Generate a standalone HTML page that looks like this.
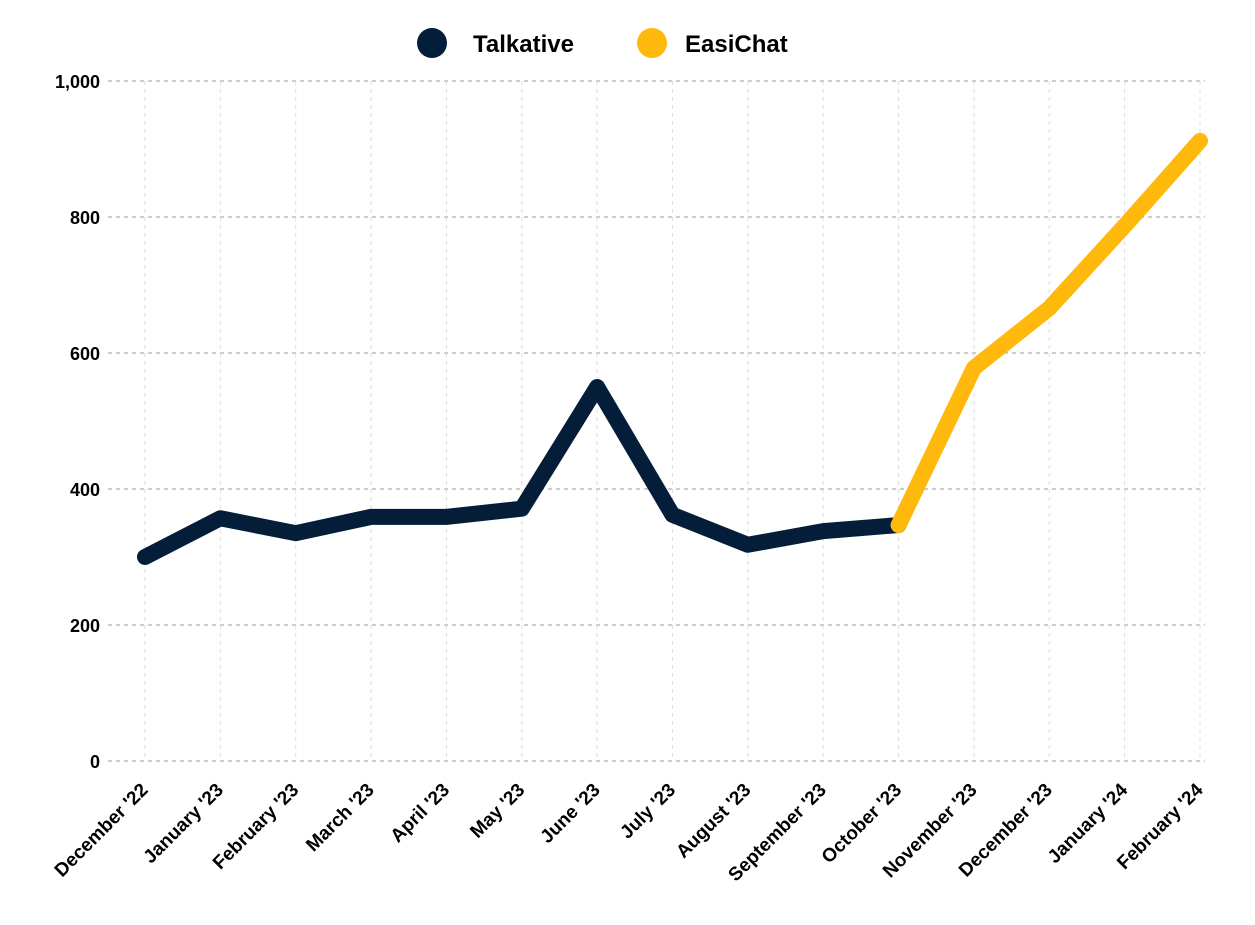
<!DOCTYPE html>
<html><head><meta charset="utf-8"><style>
html,body{margin:0;padding:0;background:#fff;}
svg{display:block;font-family:"Liberation Sans",sans-serif;font-weight:bold;}
</style></head><body>
<svg id="chart" width="1255" height="925" viewBox="0 0 1255 925">
<g id="legend">
<g><circle cx="432" cy="43" r="15" fill="#041e3a"/><text x="473" y="52" font-size="24" fill="#000">Talkative</text></g>
<g><circle cx="652" cy="43" r="15" fill="#ffb80c"/><text x="685" y="52" font-size="24" fill="#000">EasiChat</text></g>
</g>
<g id="grid"></g>
<g id="yaxis"></g>
<g id="xaxis"></g>
<g id="series"></g>
</svg>
<script>
const categories=["December '22","January '23","February '23","March '23","April '23","May '23","June '23","July '23","August '23","September '23","October '23","November '23","December '23","January '24","February '24"];
const talkative=[300,357,335,359,359,371,550,362,318,338,347,null,null,null,null];
const easichat=[null,null,null,null,null,null,null,null,null,null,347,578,666,787,912];
const yTicks=[0,200,400,600,800,1000];
const yTickLabels=["0","200","400","600","800","1,000"];
const NS="http://www.w3.org/2000/svg";
const x0=145,x1=1200,y0=761,y1=81,left=108,right=1205;
function xs(i){return x0+(x1-x0)*i/(categories.length-1);}
function ys(v){return y0-(y0-y1)*v/1000;}
function mk(tag,attrs,parent){const e=document.createElementNS(NS,tag);for(const k in attrs)e.setAttribute(k,attrs[k]);parent.appendChild(e);return e;}
const grid=document.getElementById('grid'),ya=document.getElementById('yaxis'),xa=document.getElementById('xaxis'),se=document.getElementById('series');
yTicks.forEach((t,i)=>{
 const l=mk('line',{x1:left,x2:right,y1:ys(t),y2:ys(t),stroke:'#999','stroke-dasharray':'4,4','stroke-width':1},grid);
 
 
 const tx=mk('text',{x:100,y:ys(t)+7,'text-anchor':'end','font-size':18,fill:'#000'},ya);
 tx.textContent=yTickLabels[i];
 
 
});
categories.forEach((c,i)=>{
 const l=mk('line',{x1:xs(i),x2:xs(i),y1:y1,y2:y0,stroke:'#ddd','stroke-dasharray':'4,4','stroke-width':1},grid);
 
 
 const tx=mk('text',{x:0,y:0,'text-anchor':'end','font-size':19,fill:'#000',transform:`translate(${xs(i)+4},${y0+30}) rotate(-45)`},xa);
 tx.textContent=c;
 
 
});
function drawLine(vals,color,name){
 const pts=[];vals.forEach((v,i)=>{if(v!==null)pts.push(xs(i)+','+ys(v));});
 const p=mk('polyline',{points:pts.join(' '),fill:'none',stroke:color,'stroke-width':16,'stroke-linejoin':'round','stroke-linecap':'round'},se);
 
 
}
drawLine(talkative,'#041e3a','talkative-line');
drawLine(easichat,'#ffb80c','easichat-line');
</script>
</body></html>
